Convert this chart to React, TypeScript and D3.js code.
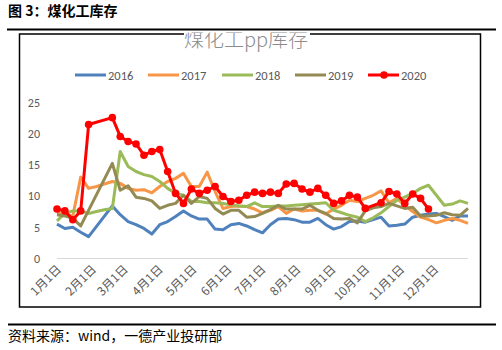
import React from "react";
import * as d3 from "d3";

const MONTH_LABELS = ["1月1日","2月1日","3月1日","4月1日","5月1日","6月1日","7月1日","8月1日","9月1日","10月1日","11月1日","12月1日"];
const MONTH_DAYS = [0,31,59,90,120,151,181,212,243,273,304,334];
const Y_TICKS = [0,5,10,15,20,25];

const DAYS_2016 = [0,7,14,21,28,49,56,63,70,77,84,91,98,105,112,119,126,133,140,147,154,161,168,175,182,189,196,203,210,217,224,231,238,245,252,259,266,273,280,287,294,301,308,315,322,329,336,343,350,357,364];
const VALS_2016 = [5.5,4.8,5.0,4.2,3.5,8.4,7.0,5.9,5.4,4.8,3.9,5.4,5.9,6.7,7.6,6.8,6.3,6.3,4.7,4.6,5.4,5.6,5.2,4.6,4.1,5.4,6.3,6.4,6.2,5.8,5.8,6.4,5.4,4.7,5.1,5.9,6.0,5.8,6.2,6.6,5.2,5.3,5.5,6.6,6.9,7.1,7.2,6.7,6.1,6.8,6.8];

const DAYS_2017 = [0,7,14,21,28,35,42,49,56,63,70,77,84,91,98,105,112,119,126,133,140,147,154,161,168,175,182,189,196,203,210,217,224,231,238,245,252,259,266,273,280,287,294,301,308,315,322,329,336,343,350,357,364];
const VALS_2017 = [7.3,7.0,6.8,13.0,11.2,11.5,11.9,12.3,12.0,11.2,10.9,11.0,10.5,11.5,12.3,12.8,13.6,11.5,11.5,13.8,10.7,8.0,8.3,8.4,8.3,7.9,7.3,7.7,8.3,7.2,7.9,7.6,7.7,7.7,7.1,7.9,8.5,9.3,9.1,9.6,10.1,10.8,8.9,9.6,8.5,7.5,6.6,6.2,5.7,6.1,6.4,6.1,5.6];

const DAYS_2018 = DAYS_2017;
const VALS_2018 = [6.0,7.2,7.6,7.6,7.2,7.5,7.8,8.0,17.1,14.7,13.9,13.4,13.1,12.3,11.2,10.4,10.1,9.1,9.1,8.9,8.9,8.8,8.6,8.4,8.3,8.9,8.3,8.3,8.4,8.4,8.5,8.6,8.7,8.8,8.9,7.7,7.3,6.9,6.6,5.9,6.5,7.3,8.3,9.3,9.8,10.4,11.2,11.7,10.1,8.5,8.7,9.2,8.8];

const DAYS_2019 = [0,7,14,21,49,56,63,70,77,84,91,98,105,112,119,126,133,140,147,154,161,168,175,182,189,196,203,210,217,224,231,238,245,252,259,266,273,280,287,294,301,308,315,322,329,336,343,350,357,364];
const VALS_2019 = [7.0,6.8,6.4,5.2,15.2,10.9,11.6,9.8,9.6,9.2,8.0,8.5,8.8,10.1,8.8,9.9,9.6,8.0,7.1,7.7,7.7,6.6,6.7,7.2,7.8,8.5,7.9,7.9,7.9,8.5,7.7,7.2,6.4,6.3,6.4,5.7,7.6,8.1,8.3,8.8,8.4,8.0,8.2,6.8,6.8,6.9,7.3,7.0,6.9,8.0];

const DAYS_2020 = [0,7,14,21,28,49,56,63,70,77,84,91,98,105,112,119,126,133,140,147,154,161,168,175,182,189,196,203,210,217,224,231,238,245,252,259,266,273,287,294,301,308,315,322,329];
const VALS_2020 = [7.9,7.6,6.2,7.6,21.4,22.5,19.5,18.7,18.3,16.5,17.1,17.4,13.9,10.4,8.8,11.1,10.4,10.9,11.5,9.9,9.1,9.3,10.1,10.6,10.4,10.6,10.4,11.9,12.0,11.1,10.6,11.2,10.1,8.8,9.2,10.1,9.8,8.0,8.9,10.7,10.3,8.8,10.3,9.6,7.9];

const SERIES_NAMES = ["2016","2017","2018","2019","2020"];
const SERIES_COLORS = ["#4F81BD","#F79646","#9BBB59","#948A54","#FF0000"];

export default function App() {
  const W = 502, H = 350;
  const x = d3.scaleLinear().domain([0, 364]).range([57, 468]);
  const y = d3.scaleLinear().domain([0, 25]).range([258.5, 102]);
  const series = [
    { days: DAYS_2016, vals: VALS_2016 },
    { days: DAYS_2017, vals: VALS_2017 },
    { days: DAYS_2018, vals: VALS_2018 },
    { days: DAYS_2019, vals: VALS_2019 },
    { days: DAYS_2020, vals: VALS_2020 },
  ];
  const line = d3.line<[number, number]>().x(d => x(d[0])).y(d => y(d[1]));
  const legendX = [75, 148, 222, 295, 368];
  const cjk = "'Noto Sans CJK SC', 'Noto Sans', sans-serif";
  const latin = "Calibri, Carlito, 'Liberation Sans', 'Noto Sans', sans-serif";
  return (
    <svg width={W} height={H} style={{ position: "absolute", left: 0, top: 0, background: "#fff" }}>
      <defs>
        <clipPath id="titleClip">
          <rect x={19} y={32.5} width={462} height={40} />
        </clipPath>
      </defs>
      <text x={8} y={16} fontFamily={cjk} fontSize={14} fontWeight="bold" fill="#000">图 3：煤化工库存</text>
      <line x1={7} x2={496} y1={29.5} y2={29.5} stroke="#000" strokeWidth={2} />
      <rect x={19.5} y={34} width={461} height={273} fill="#fff" stroke="#000" strokeWidth={1.5} />
      <rect x={184} y={32.5} width={126} height={3} fill="#fff" />
      <text x={246} y={47} textAnchor="middle" fontFamily={cjk} fontSize={20} fontWeight={300} fill="#8C8C8C" clipPath="url(#titleClip)">煤化工pp库存</text>
      {SERIES_NAMES.map((n, i) => (
        <g key={n}>
          <line x1={legendX[i]} x2={legendX[i] + 31} y1={75} y2={75} stroke={SERIES_COLORS[i]} strokeWidth={3} />
          {i === 4 && <circle cx={legendX[i] + 16} cy={75} r={3.8} fill={SERIES_COLORS[i]} />}
          <text x={legendX[i] + 33} y={79.5} fontFamily={latin} fontSize={12.5} fill="#595959">{n}</text>
        </g>
      ))}
      {Y_TICKS.map(t => (
        <text key={t} x={40} y={y(t) + 4.5} textAnchor="end" fontFamily={latin} fontSize={12} fill="#595959">{t}</text>
      ))}
      <line x1={x(0)} x2={x(364)} y1={y(0)} y2={y(0)} stroke="#D9D9D9" strokeWidth={1} />
      {MONTH_LABELS.map((m, i) => (
        <text key={m} transform={`translate(${x(MONTH_DAYS[i]) + 5},${270}) rotate(-45)`} textAnchor="end" fontFamily={cjk} fontSize={12} fill="#595959">{m}</text>
      ))}
      {series.map((s, i) => (
        <path key={i} d={line(s.days.map((d, j) => [d, s.vals[j]] as [number, number])) || ""} fill="none" stroke={SERIES_COLORS[i]} strokeWidth={3} strokeLinejoin="round" />
      ))}
      {DAYS_2020.map((d, j) => (
        <circle key={j} cx={x(d)} cy={y(VALS_2020[j])} r={3.8} fill={SERIES_COLORS[4]} />
      ))}
      <line x1={8} x2={496} y1={324.5} y2={324.5} stroke="#000" strokeWidth={2} />
      <text x={8} y={341} fontFamily={cjk} fontSize={14} fill="#000">资料来源：wind，一德产业投研部</text>
    </svg>
  );
}
